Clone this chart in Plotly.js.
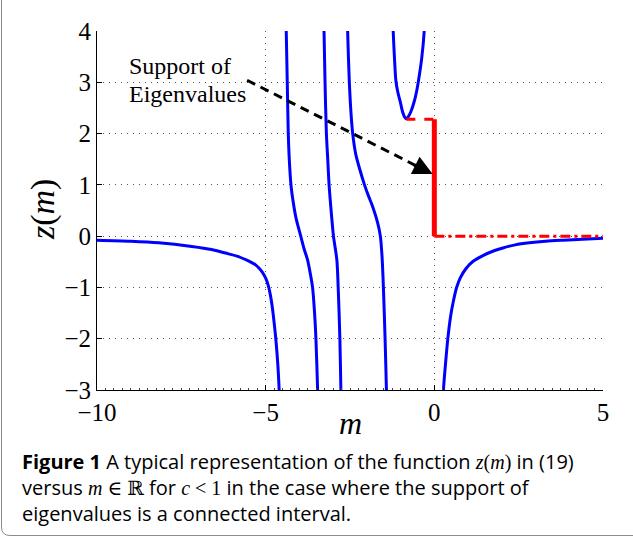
<!DOCTYPE html>
<html>
<head>
<meta charset="utf-8">
<script src="https://cdn.plot.ly/plotly-3.0.1.min.js"></script>
<style>
  html, body { margin: 0; padding: 0; background: #fff; }
  #chart { width: 633px; height: 537px; }
</style>
</head>
<body>
<div id="chart"></div>
<script>
// ---- Data (m, z(m)) ----
const branchA_m = [-10, -9, -8.17, -7.19, -6.6, -6.19, -5.85, -5.59, -5.4, -5.3, -5.2, -5.1, -5.0, -4.92, -4.86, -4.80, -4.75, -4.70, -4.64, -4.60, -4.585];
const branchA_z = [-0.08, -0.10, -0.13, -0.20, -0.26, -0.33, -0.39, -0.46, -0.52, -0.56, -0.62, -0.70, -0.82, -0.97, -1.15, -1.40, -1.68, -2.0, -2.5, -3.0, -3.3];

const branchB_m = [-4.40, -4.39, -4.36, -4.33, -4.30, -4.25, -4.18, -4.10, -3.96, -3.86, -3.76, -3.68, -3.61, -3.55, -3.51, -3.46, -3.45];
const branchB_z = [4.3, 4.0, 3.0, 2.0, 1.5, 1.0, 0.65, 0.35, 0.0, -0.25, -0.46, -0.72, -1.0, -1.5, -2.0, -3.0, -3.3];

const branchC_m = [-3.28, -3.27, -3.24, -3.20, -3.16, -3.12, -3.06, -2.99, -2.89, -2.85, -2.80, -2.77, -2.76];
const branchC_z = [4.3, 4.0, 3.0, 2.0, 1.5, 1.0, 0.5, 0.0, -0.46, -1.0, -2.0, -3.0, -3.3];

const branchD_m = [-2.58, -2.57, -2.52, -2.46, -2.42, -2.33, -2.20, -2.07, -1.95, -1.83, -1.68, -1.60, -1.55, -1.51, -1.46, -1.42, -1.41];
const branchD_z = [4.3, 4.0, 3.0, 2.3, 2.0, 1.6, 1.28, 1.0, 0.78, 0.58, 0.26, 0.0, -0.4, -1.0, -2.0, -3.0, -3.3];

const branchE_m = [-1.235, -1.22, -1.18, -1.14, -1.08, -1.01, -0.94, -0.88, -0.83, -0.77, -0.70, -0.59, -0.52, -0.47, -0.37, -0.30, -0.285];
const branchE_z = [4.3, 4.0, 3.45, 3.03, 2.80, 2.62, 2.42, 2.32, 2.29, 2.33, 2.42, 2.64, 2.84, 3.03, 3.49, 4.0, 4.3];

const branchF_m = [0.26, 0.27, 0.33, 0.40, 0.48, 0.57, 0.66, 0.78, 0.94, 1.15, 1.44, 1.75, 2.03, 2.4, 2.82, 3.3, 3.81, 4.4, 5.0];
const branchF_z = [-3.3, -3.0, -2.5, -2.0, -1.57, -1.25, -1.0, -0.80, -0.63, -0.49, -0.38, -0.29, -0.23, -0.17, -0.13, -0.10, -0.08, -0.06, -0.04];

// support of eigenvalues [lower, upper] on the z axis, and the m location of the minimum
const supportZ = [0, 2.28];
const minimumM = -0.83;
const mRange = [-10, 5];
const zRange = [-3, 4];

// annotation arrow (m, z)
const arrowStart = [-5.55, 3.04];
const arrowTip = [-0.05, 1.21];

const xTickVals = [-10, -5, 0, 5];
const yTickVals = [-3, -2, -1, 0, 1, 2, 3, 4];

// ---- Build traces ----
const blue = {color: '#0000ff', width: 3, shape: 'spline', smoothing: 0.8};
const branches = [
  [branchA_m, branchA_z], [branchB_m, branchB_z], [branchC_m, branchC_z],
  [branchD_m, branchD_z], [branchE_m, branchE_z], [branchF_m, branchF_z]
];
const traces = branches.map(([m, z]) => ({
  x: m, y: z, type: 'scatter', mode: 'lines', line: blue, hoverinfo: 'skip', showlegend: false
}));

traces.push({x: [0, 0], y: supportZ, mode: 'lines', line: {color: '#ff0000', width: 5}, showlegend: false, hoverinfo: 'skip'});
traces.push({x: [minimumM, 0], y: [supportZ[1], supportZ[1]], mode: 'lines', line: {color: '#ff0000', width: 3, dash: 'dash'}, showlegend: false, hoverinfo: 'skip'});
traces.push({x: [0, mRange[1]], y: [supportZ[0], supportZ[0]], mode: 'lines', line: {color: '#ff0000', width: 3, dash: '10px,4px,3px,4px'}, showlegend: false, hoverinfo: 'skip'});

const shaftEnd = [arrowStart[0] + (arrowTip[0] - arrowStart[0]) * 0.95, arrowStart[1] + (arrowTip[1] - arrowStart[1]) * 0.95];
traces.push({x: [arrowStart[0], shaftEnd[0]], y: [arrowStart[1], shaftEnd[1]], mode: 'lines', line: {color: '#000', width: 3, dash: '9px,6px'}, showlegend: false, hoverinfo: 'skip'});

// ---- Layout ----
const W = 633, H = 537, L = 97, R = 30, T = 31, B = 147;
const pw = W - L - R, ph = H - T - B;
const px = v => (v - L) / pw;
const py = v => (H - B - v) / ph;

const serif = 'Liberation Serif, Times New Roman, serif';
const sans = 'Open Sans, Noto Sans, sans-serif';
const mathSpan = s => `<span style="font-family:'Liberation Serif','DejaVu Serif',serif">${s}</span>`;

const layout = {
  width: W, height: H,
  margin: {l: L, r: R, t: T, b: B},
  paper_bgcolor: '#fff', plot_bgcolor: '#fff',
  font: {family: serif, size: 25, color: '#000'},
  showlegend: false,
  xaxis: {
    range: mRange, tickvals: xTickVals, ticklabelstandoff: 0,
    showgrid: true, griddash: '1px,5px', gridcolor: '#555', gridwidth: 1,
    zeroline: false, showline: true, linecolor: '#000', linewidth: 1,
    ticks: 'inside', ticklen: 5, tickcolor: '#000',
    tickfont: {family: serif, size: 25, color: '#000'},
    minor: {ticks: 'inside', ticklen: 2, dtick: 0.25, tickcolor: '#444', showgrid: false}
  },
  yaxis: {
    range: zRange, tickvals: yTickVals, ticklabelstandoff: 0,
    showgrid: true, griddash: '1px,5px', gridcolor: '#555', gridwidth: 1,
    zeroline: false, showline: true, linecolor: '#000', linewidth: 1,
    ticks: 'inside', ticklen: 5, tickcolor: '#000',
    tickfont: {family: serif, size: 25, color: '#000'}
  },
  annotations: [
    {x: arrowTip[0], y: arrowTip[1], xref: 'x', yref: 'y', text: '', showarrow: true,
     arrowhead: 2, arrowsize: 1.3, arrowwidth: 3, arrowcolor: '#000', ax: -20, ay: -10},
    {x: -9.12, y: (236.5 - 67) / 51, xref: 'x', yref: 'y', xanchor: 'left', yanchor: 'middle', align: 'left',
     text: 'Support of', showarrow: false, font: {family: serif, size: 24, color: '#000'}},
    {x: -9.12, y: (236.5 - 95) / 51, xref: 'x', yref: 'y', xanchor: 'left', yanchor: 'middle', align: 'left',
     text: 'Eigenvalues', showarrow: false, font: {family: serif, size: 24, color: '#000'}},
    // axis titles
    {x: 0.5, y: py(423), xref: 'paper', yref: 'paper', xanchor: 'center', yanchor: 'middle', showarrow: false,
     text: '<i>m</i>', font: {family: serif, size: 32, color: '#000'}},
    {x: px(43), y: py(210), xref: 'paper', yref: 'paper', xanchor: 'center', yanchor: 'middle', showarrow: false,
     textangle: -90, text: '<i>z</i>(<i>m</i>)', font: {family: serif, size: 34, color: '#000'}},
    // caption
    {x: px(20), y: py(488), xref: 'paper', yref: 'paper', xanchor: 'left', yanchor: 'middle', showarrow: false, align: 'left',
     font: {family: sans, size: 20, color: '#000'},
     text: '<b>Figure 1</b> A typical representation of the function ' + mathSpan('<i>z</i>(<i>m</i>)') + ' in (19)<br>' +
           'versus ' + mathSpan('<i>m</i> ∈ ℝ') + ' for ' + mathSpan('<i>c</i> &lt; 1') + ' in the case where the support of<br>' +
           'eigenvalues is a connected interval.'}
  ],
  shapes: [
    {type: 'path', xref: 'paper', yref: 'paper', layer: 'above',
     path: `M ${px(1.5)} ${py(-5)} L ${px(1.5)} ${py(527)} Q ${px(1.5)} ${py(535.5)} ${px(10)} ${py(535.5)} L ${px(700)} ${py(535.5)}`,
     line: {color: '#8c8c8c', width: 1}}
  ]
};

Plotly.newPlot('chart', traces, layout, {staticPlot: true, displayModeBar: false});
</script>
</body>
</html>
